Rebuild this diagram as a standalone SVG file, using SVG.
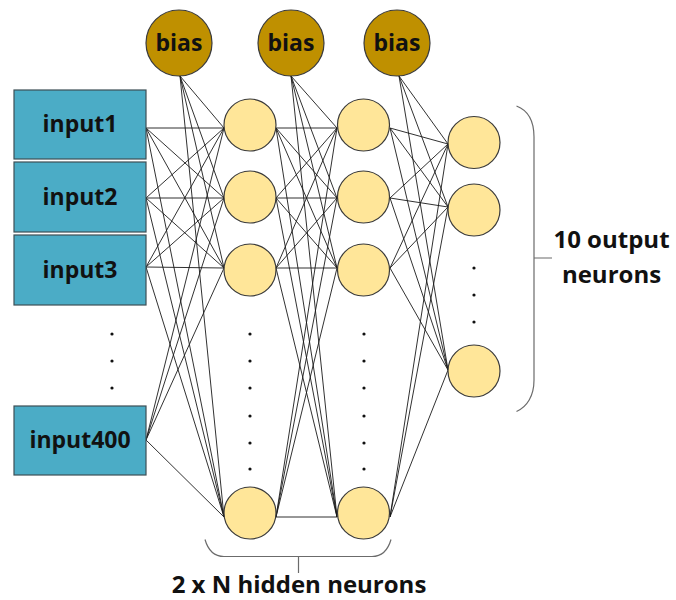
<svg xmlns="http://www.w3.org/2000/svg" width="676" height="600" viewBox="0 0 676 600">
  <style>
    .bg { fill: #ffffff; }
    .edge { stroke: #1a1a1a; stroke-width: 0.9; fill: none; }
    .brace { stroke: #6b6b6b; stroke-width: 1.2; fill: none; }
    .input rect { fill: #4BACC6; stroke: #3d4f55; stroke-width: 1.2; }
    .bias circle { fill: #BF9000; stroke: #3a3a3a; stroke-width: 1.2; }
    .neuron circle { fill: #FFE699; stroke: #3a3a3a; stroke-width: 1.2; }
    .dot { fill: #111111; }
    text { font-family: "Open Sans", "Noto Sans", "Liberation Sans", sans-serif; font-weight: 700; fill: #111111; text-anchor: middle; }
    .lbl { font-size: 23px; }
    .cap { font-size: 24px; }
  </style>

  <rect class="bg" x="0" y="0" width="676" height="600"/>

  <!-- weighted connections, drawn beneath the nodes -->
  <g id="connectors">
    <!-- inputs to hidden layer 1 -->
    <line class="edge" x1="146" y1="128" x2="224" y2="128"/>
    <line class="edge" x1="146" y1="128" x2="224" y2="198"/>
    <line class="edge" x1="146" y1="128" x2="224" y2="268"/>
    <line class="edge" x1="146" y1="128" x2="224" y2="517"/>
    <line class="edge" x1="146" y1="198" x2="224" y2="128"/>
    <line class="edge" x1="146" y1="198" x2="224" y2="198"/>
    <line class="edge" x1="146" y1="198" x2="224" y2="268"/>
    <line class="edge" x1="146" y1="198" x2="224" y2="517"/>
    <line class="edge" x1="146" y1="267" x2="224" y2="128"/>
    <line class="edge" x1="146" y1="267" x2="224" y2="198"/>
    <line class="edge" x1="146" y1="267" x2="224" y2="268"/>
    <line class="edge" x1="146" y1="267" x2="224" y2="517"/>
    <line class="edge" x1="146" y1="440" x2="224" y2="128"/>
    <line class="edge" x1="146" y1="440" x2="224" y2="198"/>
    <line class="edge" x1="146" y1="440" x2="224" y2="268"/>
    <line class="edge" x1="146" y1="440" x2="224" y2="517"/>
    <!-- bias 1 to hidden layer 1 -->
    <line class="edge" x1="180" y1="76" x2="224" y2="128"/>
    <line class="edge" x1="180" y1="76" x2="224" y2="198"/>
    <line class="edge" x1="180" y1="76" x2="224" y2="268"/>
    <line class="edge" x1="180" y1="76" x2="224" y2="517"/>
    <!-- hidden layer 1 to hidden layer 2 -->
    <line class="edge" x1="276" y1="128" x2="337" y2="128"/>
    <line class="edge" x1="276" y1="128" x2="337" y2="198"/>
    <line class="edge" x1="276" y1="128" x2="337" y2="268"/>
    <line class="edge" x1="276" y1="128" x2="337" y2="517"/>
    <line class="edge" x1="276" y1="198" x2="337" y2="128"/>
    <line class="edge" x1="276" y1="198" x2="337" y2="198"/>
    <line class="edge" x1="276" y1="198" x2="337" y2="268"/>
    <line class="edge" x1="276" y1="198" x2="337" y2="517"/>
    <line class="edge" x1="276" y1="268" x2="337" y2="128"/>
    <line class="edge" x1="276" y1="268" x2="337" y2="198"/>
    <line class="edge" x1="276" y1="268" x2="337" y2="268"/>
    <line class="edge" x1="276" y1="268" x2="337" y2="517"/>
    <line class="edge" x1="276" y1="517" x2="337" y2="128"/>
    <line class="edge" x1="276" y1="517" x2="337" y2="198"/>
    <line class="edge" x1="276" y1="517" x2="337" y2="268"/>
    <line class="edge" x1="276" y1="517" x2="337" y2="517"/>
    <!-- bias 2 to hidden layer 2 -->
    <line class="edge" x1="291" y1="76" x2="337" y2="128"/>
    <line class="edge" x1="291" y1="76" x2="337" y2="198"/>
    <line class="edge" x1="291" y1="76" x2="337" y2="268"/>
    <line class="edge" x1="291" y1="76" x2="337" y2="517"/>
    <!-- hidden layer 2 to outputs -->
    <line class="edge" x1="390" y1="128" x2="448" y2="144"/>
    <line class="edge" x1="390" y1="128" x2="448" y2="207"/>
    <line class="edge" x1="390" y1="128" x2="448" y2="370"/>
    <line class="edge" x1="390" y1="198" x2="448" y2="144"/>
    <line class="edge" x1="390" y1="198" x2="448" y2="207"/>
    <line class="edge" x1="390" y1="198" x2="448" y2="370"/>
    <line class="edge" x1="390" y1="268" x2="448" y2="144"/>
    <line class="edge" x1="390" y1="268" x2="448" y2="207"/>
    <line class="edge" x1="390" y1="268" x2="448" y2="370"/>
    <line class="edge" x1="390" y1="517" x2="448" y2="144"/>
    <line class="edge" x1="390" y1="517" x2="448" y2="207"/>
    <line class="edge" x1="390" y1="517" x2="448" y2="370"/>
    <!-- bias 3 to outputs -->
    <line class="edge" x1="399" y1="76" x2="448" y2="144"/>
    <line class="edge" x1="399" y1="76" x2="448" y2="207"/>
    <line class="edge" x1="399" y1="76" x2="448" y2="370"/>
  </g>

  <!-- input units -->
  <g id="input1" class="input">
    <rect x="14" y="90" width="132" height="69"/>
    <text class="lbl" x="80" y="132">input1</text>
  </g>
  <g id="input2" class="input">
    <rect x="14" y="162" width="132" height="70"/>
    <text class="lbl" x="80" y="205">input2</text>
  </g>
  <g id="input3" class="input">
    <rect x="14" y="235" width="132" height="70"/>
    <text class="lbl" x="80" y="278">input3</text>
  </g>
  <g id="input400" class="input">
    <rect x="14" y="406" width="132" height="69"/>
    <text class="lbl" x="80" y="448">input400</text>
  </g>

  <!-- bias units -->
  <g id="bias1" class="bias">
    <circle cx="179" cy="43" r="33"/>
    <text class="lbl" x="179" y="51">bias</text>
  </g>
  <g id="bias2" class="bias">
    <circle cx="291" cy="43" r="33"/>
    <text class="lbl" x="291" y="51">bias</text>
  </g>
  <g id="bias3" class="bias">
    <circle cx="397" cy="43" r="33"/>
    <text class="lbl" x="397" y="51">bias</text>
  </g>

  <!-- hidden layer 1 -->
  <g id="h1-1" class="neuron"><circle cx="250" cy="125" r="26"/></g>
  <g id="h1-2" class="neuron"><circle cx="250" cy="197" r="26"/></g>
  <g id="h1-3" class="neuron"><circle cx="250" cy="270" r="26"/></g>
  <g id="h1-n" class="neuron"><circle cx="250" cy="513" r="26"/></g>

  <!-- hidden layer 2 -->
  <g id="h2-1" class="neuron"><circle cx="363.5" cy="125" r="26"/></g>
  <g id="h2-2" class="neuron"><circle cx="363.5" cy="197" r="26"/></g>
  <g id="h2-3" class="neuron"><circle cx="363.5" cy="270" r="26"/></g>
  <g id="h2-n" class="neuron"><circle cx="363.5" cy="513" r="26"/></g>

  <!-- output layer -->
  <g id="out1" class="neuron"><circle cx="474" cy="142.5" r="26"/></g>
  <g id="out2" class="neuron"><circle cx="474" cy="210" r="26"/></g>
  <g id="out10" class="neuron"><circle cx="474" cy="371" r="26"/></g>

  <!-- ellipsis dots -->
  <g id="ellipses">
    <circle class="dot" cx="112" cy="334" r="1.6"/>
    <circle class="dot" cx="112" cy="361" r="1.6"/>
    <circle class="dot" cx="112" cy="388" r="1.6"/>

    <circle class="dot" cx="250" cy="334" r="1.6"/>
    <circle class="dot" cx="250" cy="361" r="1.6"/>
    <circle class="dot" cx="250" cy="388" r="1.6"/>
    <circle class="dot" cx="250" cy="416" r="1.6"/>
    <circle class="dot" cx="250" cy="443" r="1.6"/>
    <circle class="dot" cx="250" cy="469" r="1.6"/>

    <circle class="dot" cx="364" cy="334" r="1.6"/>
    <circle class="dot" cx="364" cy="361" r="1.6"/>
    <circle class="dot" cx="364" cy="388" r="1.6"/>
    <circle class="dot" cx="364" cy="416" r="1.6"/>
    <circle class="dot" cx="364" cy="443" r="1.6"/>
    <circle class="dot" cx="364" cy="469" r="1.6"/>

    <circle class="dot" cx="474" cy="268" r="1.6"/>
    <circle class="dot" cx="474" cy="295" r="1.6"/>
    <circle class="dot" cx="474" cy="322" r="1.6"/>
  </g>

  <!-- output brace and label -->
  <g id="output-brace">
    <path class="brace" d="M516.5,106 C527,110 534,120 534,137 V380 C534,396 527,407 516.5,411.5 M534,258 H552"/>
    <text class="cap" x="611.5" y="248">10 output</text>
    <text class="cap" x="611.5" y="283">neurons</text>
  </g>

  <!-- hidden brace and label -->
  <g id="hidden-brace">
    <path class="brace" d="M205,539.5 C208,550 214,556.5 224,556.5 H372 C382,556.5 388,550 391,539.5 M298.5,556.5 V573"/>
    <text class="cap" x="299" y="593">2 x N hidden neurons</text>
  </g>
</svg>
